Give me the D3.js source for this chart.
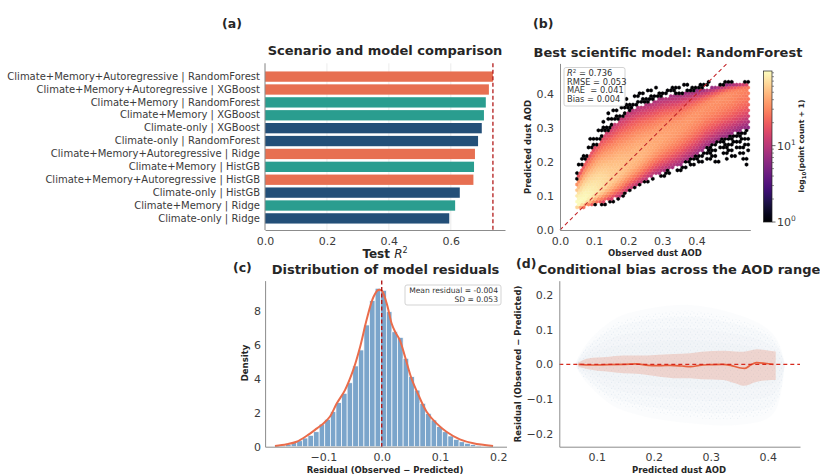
<!DOCTYPE html>
<html>
<head>
<meta charset="utf-8">
<script src="https://cdn.jsdelivr.net/npm/d3@7"></script>
<style>
  body { margin: 0; background: #fff; }
  svg { font-family: "DejaVu Sans", sans-serif; }
  .ax path.domain { stroke: #8c8c8c; }
  .ax text { fill: #3b3b3b; }
</style>
</head>
<body>
<svg id="fig" width="820" height="475"></svg>
<script>
// ---------------- (a) scenario / model comparison ----------------
const modelLabels = [
  "Climate+Memory+Autoregressive | RandomForest",
  "Climate+Memory+Autoregressive | XGBoost",
  "Climate+Memory | RandomForest",
  "Climate+Memory | XGBoost",
  "Climate-only | XGBoost",
  "Climate-only | RandomForest",
  "Climate+Memory+Autoregressive | Ridge",
  "Climate+Memory | HistGB",
  "Climate+Memory+Autoregressive | HistGB",
  "Climate-only | HistGB",
  "Climate+Memory | Ridge",
  "Climate-only | Ridge"
];
const modelScenario = ["CMA","CMA","CM","CM","CO","CO","CMA","CM","CMA","CO","CM","CO"];
const testR2 = [0.736, 0.723, 0.713, 0.707, 0.700, 0.688, 0.678, 0.675, 0.673, 0.629, 0.614, 0.595];
const bestR2 = 0.736;
const r2Ticks = [0, 0.2, 0.4, 0.6];

// ---------------- (b) observed vs predicted hexbin envelope ----------------
// per observed-AOD column: sparse lower edge, dense lower edge, density ridge,
// dense upper edge, sparse upper edge, and peak cell count on the ridge
const hexObs      = [0.05, 0.075, 0.10, 0.125, 0.15, 0.175, 0.20, 0.225, 0.25, 0.275, 0.30, 0.325, 0.35, 0.375, 0.40, 0.425, 0.45, 0.475, 0.50, 0.525, 0.55];
const hexLo       = [0.055, 0.062, 0.068, 0.072, 0.078, 0.090, 0.105, 0.120, 0.135, 0.145, 0.155, 0.160, 0.168, 0.175, 0.180, 0.190, 0.195, 0.200, 0.205, 0.200, 0.190];
const hexLoDense  = [0.058, 0.066, 0.075, 0.080, 0.088, 0.100, 0.115, 0.130, 0.145, 0.160, 0.170, 0.180, 0.190, 0.205, 0.220, 0.240, 0.255, 0.270, 0.280, 0.290, 0.300];
const hexRidge    = [0.075, 0.090, 0.110, 0.130, 0.150, 0.170, 0.190, 0.210, 0.230, 0.250, 0.270, 0.285, 0.300, 0.320, 0.340, 0.360, 0.375, 0.390, 0.400, 0.410, 0.415];
const hexHiDense  = [0.150, 0.200, 0.240, 0.275, 0.300, 0.325, 0.345, 0.360, 0.370, 0.380, 0.390, 0.395, 0.400, 0.405, 0.410, 0.415, 0.420, 0.425, 0.430, 0.432, 0.435];
const hexHi       = [0.190, 0.250, 0.290, 0.325, 0.355, 0.375, 0.392, 0.402, 0.410, 0.418, 0.424, 0.428, 0.431, 0.434, 0.436, 0.437, 0.439, 0.440, 0.441, 0.441, 0.441];
const hexPeak     = [95, 90, 80, 70, 60, 55, 50, 48, 45, 42, 40, 38, 36, 35, 34, 33, 33, 33, 32, 30, 28];
const countMax = 95;
const metricNames  = ["RMSE", "MAE ", "Bias"];
const metricValues = [0.053, 0.041, 0.004];
const aodTicks = [0, 0.1, 0.2, 0.3, 0.4];

// ---------------- (c) residual distribution ----------------
const histStart = -0.1841;
const histWidth = 0.0096;
const histDensity = [0.06, 0.08, 0.14, 0.24, 0.35, 0.51, 0.67, 0.88, 1.33, 1.61, 2.06, 2.59, 3.14, 3.76, 4.75, 5.69, 7.16, 8.59, 9.32,
                     9.20, 7.94, 6.76, 6.43, 5.20, 4.12, 3.33, 2.55, 1.96, 1.57, 1.18, 0.88, 0.63, 0.43, 0.29, 0.20, 0.12, 0.08, 0.04, 0.02];
const kdeX = [-0.183, -0.163, -0.146, -0.129, -0.111, -0.100, -0.089, -0.077, -0.063, -0.049, -0.037, -0.026, -0.014, -0.006, 0.0,
              0.0085, 0.017, 0.023, 0.031, 0.040, 0.051, 0.063, 0.077, 0.094, 0.111, 0.134, 0.157, 0.191];
const kdeY = [0.04, 0.14, 0.29, 0.63, 1.08, 1.37, 1.76, 2.55, 3.33, 4.50, 5.88, 7.45, 8.82, 9.22, 9.18,
              8.43, 7.25, 6.76, 6.27, 5.29, 4.02, 3.04, 2.06, 1.37, 0.88, 0.43, 0.20, 0.04];
const meanResidual = -0.004;
const sdResidual = 0.053;
const residTicks = [-0.1, 0, 0.1, 0.2];
const densityTicks = [0, 2, 4, 6, 8];

// ---------------- (d) conditional bias ----------------
const cloudPred = [0.062, 0.070, 0.088, 0.118, 0.147, 0.205, 0.264, 0.322, 0.380, 0.420, 0.430];
const cloudHi   = [0.000, 0.030, 0.075, 0.118, 0.147, 0.166, 0.176, 0.157, 0.128, 0.080, 0.000];
const cloudLo   = [0.000, -0.030, -0.064, -0.112, -0.136, -0.160, -0.170, -0.180, -0.170, -0.150, 0.000];
const bandPred  = [0.068, 0.085, 0.118, 0.147, 0.176, 0.202, 0.235, 0.264, 0.284, 0.322, 0.343, 0.357, 0.381, 0.400, 0.414];
const bandHi    = [0.005, 0.017, 0.021, 0.025, 0.025, 0.027, 0.030, 0.032, 0.036, 0.039, 0.037, 0.036, 0.043, 0.040, 0.037];
const bandLo    = [-0.008, -0.014, -0.021, -0.026, -0.028, -0.034, -0.040, -0.040, -0.043, -0.045, -0.055, -0.062, -0.050, -0.046, -0.045];
const meanPred  = [0.068, 0.09, 0.12, 0.15, 0.17, 0.19, 0.21, 0.23, 0.25, 0.265, 0.28, 0.30, 0.32, 0.335, 0.35, 0.36, 0.37, 0.38, 0.395, 0.41];
const meanResid = [0.000, -0.002, -0.001, 0.000, 0.001, -0.003, -0.004, -0.003, -0.005, -0.007, -0.003, -0.001, 0.000, -0.003, -0.010, -0.012, -0.002, 0.005, 0.003, 0.000];
const biasXTicks = [0.1, 0.2, 0.3, 0.4];
const biasYTicks = [-0.2, -0.1, 0, 0.1, 0.2];

// ================= drawing =================
const svg = d3.select("#fig");
const ink = "#262626";
const scenarioColor = { CO: "#234f78", CM: "#2a9d8f", CMA: "#e76f51" };
const f1 = d3.format(".1f");

function panelLabel(txt, x, y) {
  svg.append("text").attr("x", x).attr("y", y).attr("font-size", 12.5)
    .attr("font-weight", "bold").attr("fill", ink).text(txt);
}
function title(txt, x, y) {
  svg.append("text").attr("x", x).attr("y", y).attr("text-anchor", "middle")
    .attr("font-size", 13).attr("font-weight", "bold").attr("fill", ink).text(txt);
}
function styleAxis(g, size) {
  g.attr("class", "ax").attr("font-family", null).attr("font-size", size);
  return g;
}

// ---------- (a) ----------
{
  const x = d3.scaleLinear().domain([0, 0.775]).range([265, 505]);
  const y = d3.scaleBand().domain(modelLabels).range([65, 230]).paddingInner(0.2).paddingOuter(0.5);
  const top = 63.3, bottom = 230;
  const g = svg.append("g");
  g.selectAll("line.grid").data(r2Ticks).join("line")
    .attr("x1", d => x(d)).attr("x2", d => x(d)).attr("y1", top).attr("y2", bottom)
    .attr("stroke", "#ececec").attr("stroke-width", 1);
  g.selectAll("rect").data(testR2).join("rect")
    .attr("x", x(0)).attr("y", (d, i) => y(modelLabels[i]))
    .attr("width", d => x(d) - x(0)).attr("height", y.bandwidth())
    .attr("fill", (d, i) => scenarioColor[modelScenario[i]]);
  g.append("line").attr("x1", x(bestR2)).attr("x2", x(bestR2)).attr("y1", top).attr("y2", bottom)
    .attr("stroke", "#b31b1b").attr("stroke-width", 1.3).attr("stroke-dasharray", "4,2.5");
  styleAxis(g.append("g").attr("transform", `translate(0,${bottom})`)
    .call(d3.axisBottom(x).tickValues(r2Ticks).tickFormat(f1).tickSize(0).tickSizeOuter(0).tickPadding(7)), 11);
  const ga = styleAxis(g.append("g").attr("transform", `translate(${x(0)},0)`)
    .call(d3.axisLeft(y).tickSize(0).tickPadding(5)), 10);
  ga.select("path.domain").attr("d", `M0,${top}V${bottom}`);
  title("Scenario and model comparison", 385, 55);
  const xl = svg.append("text").attr("x", 385).attr("y", 258).attr("text-anchor", "middle")
    .attr("font-size", 12).attr("font-weight", "bold").attr("fill", ink);
  xl.append("tspan").text("Test ");
  xl.append("tspan").attr("font-style", "italic").attr("font-weight", "normal").text("R");
  xl.append("tspan").attr("font-size", 8).attr("font-weight", "normal").attr("dy", -5).text("2");
  panelLabel("(a)", 222, 28);
}

// ---------- (b) ----------
{
  const x = d3.scaleLinear().domain([0, 0.558]).range([560, 750.3]);
  const y = d3.scaleLinear().domain([0, 0.49]).range([230, 63.4]);
  const cnt = d3.scaleLog().domain([1, countMax]).range([0, 1]).clamp(true);
  const lerp = arr => d3.scaleLinear().domain(hexObs).range(arr).clamp(true);
  const fLo = lerp(hexLo), fLo2 = lerp(hexLoDense), fRg = lerp(hexRidge),
        fHi2 = lerp(hexHiDense), fHi = lerp(hexHi), fPk = lerp(hexPeak);

  const hexR = 1.9;
  const stepX = hexR * Math.sqrt(3), stepY = hexR * 1.5;
  const dObs = x.invert(x(0) + stepX) - x.invert(x(0));
  const dPred = y.invert(y(0) - stepY) - y.invert(y(0));
  const obs0 = hexObs[0], obs1 = hexObs[hexObs.length - 1];
  const cells = [];
  for (let j = 0; ; j++) {
    const pred = 0.05 + j * dPred;
    if (pred > 0.445) break;
    for (let i = 0; ; i++) {
      const obs = obs0 + (i + (j % 2) * 0.5) * dObs;
      if (obs > obs1 + 0.004) break;
      const lo = fLo(obs), lo2 = fLo2(obs), rg = fRg(obs), hi2 = fHi2(obs), hi = fHi(obs), pk = fPk(obs);
      if (pred < lo || pred > hi) continue;
      let c;
      if (pred < lo2 || pred > hi2) {
        // sparse outskirts: single points, thinned toward the outer edge
        const f = pred < lo2 ? (lo2 - pred) / Math.max(lo2 - lo, 1e-6) : (pred - hi2) / Math.max(hi - hi2, 1e-6);
        const pattern = ((i * 37 + j * 61) % 17) / 17;
        if (pattern > 0.72 - 0.55 * f) continue;
        c = 1;
      } else {
        const d = pred >= rg ? (pred - rg) / (hi2 - rg) : (rg - pred) / (rg - lo2);
        c = 1 + (pk - 1) * Math.exp(-1.7 * d * d);
      }
      cells.push({ obs, pred, c });
    }
  }
  const hexPath = d3.range(6).map(k => {
    const a = Math.PI / 3 * k + Math.PI / 6;
    return [hexR * Math.cos(a), hexR * Math.sin(a)];
  });
  const hexD = "M" + hexPath.map(p => p[0].toFixed(2) + "," + p[1].toFixed(2)).join("L") + "Z";
  const g = svg.append("g");
  g.selectAll("path.hex").data(cells).join("path")
    .attr("d", hexD).attr("transform", d => `translate(${x(d.obs).toFixed(2)},${y(d.pred).toFixed(2)})`)
    .attr("fill", d => d3.interpolateMagma(cnt(d.c)))
    .attr("stroke", d => d3.interpolateMagma(cnt(d.c))).attr("stroke-width", 0.3);

  // 1:1 reference line clipped to the axes box
  const lineEnd = Math.min(0.558, 0.49);
  g.append("line").attr("x1", x(0)).attr("y1", y(0)).attr("x2", x(lineEnd)).attr("y2", y(lineEnd))
    .attr("stroke", "#c4262a").attr("stroke-width", 1.1).attr("stroke-dasharray", "4,3");

  styleAxis(g.append("g").attr("transform", `translate(0,230)`)
    .call(d3.axisBottom(x).tickValues(aodTicks).tickFormat(f1).tickSize(0).tickSizeOuter(0).tickPadding(7)), 11);
  styleAxis(g.append("g").attr("transform", `translate(560,0)`)
    .call(d3.axisLeft(y).tickValues(aodTicks).tickFormat(f1).tickSize(0).tickSizeOuter(0).tickPadding(6)), 11);
  g.selectAll(".ax path.domain").attr("stroke", "#555");

  // metrics box
  g.append("rect").attr("x", 564).attr("y", 67.5).attr("width", 61).attr("height", 38.5).attr("rx", 2)
    .attr("fill", "#fff").attr("fill-opacity", 0.85).attr("stroke", "#c8c8c8").attr("stroke-width", 0.8);
  const tb = g.append("text").attr("font-size", 8.3).attr("fill", "#333").style("white-space", "pre");
  const l0 = tb.append("tspan").attr("x", 567).attr("y", 75.7);
  l0.append("tspan").attr("font-style", "italic").text("R");
  l0.append("tspan").attr("font-size", 5.5).attr("dy", -3).text("2");
  l0.append("tspan").attr("dy", 3).text(" = " + bestR2.toFixed(3));
  metricNames.forEach((n, i) => {
    tb.append("tspan").attr("x", 567).attr("y", 84.5 + i * 8.7).text(`${n} = ${metricValues[i].toFixed(3)}`);
  });

  title("Best scientific model: RandomForest", 668, 57);
  svg.append("text").attr("x", 655).attr("y", 256).attr("text-anchor", "middle")
    .attr("font-size", 8.5).attr("font-weight", "bold").attr("fill", ink).text("Observed dust AOD");
  svg.append("text").attr("transform", "translate(531,147) rotate(-90)").attr("text-anchor", "middle")
    .attr("font-size", 8.5).attr("font-weight", "bold").attr("fill", ink).text("Predicted dust AOD");
  panelLabel("(b)", 533, 28);

  // colour bar
  const cb = d3.scaleLog().domain([1, countMax]).range([222, 71]);
  const defs = svg.append("defs");
  const grad = defs.append("linearGradient").attr("id", "magmaBar")
    .attr("x1", 0).attr("y1", 1).attr("x2", 0).attr("y2", 0);
  d3.range(0, 1.0001, 0.05).forEach(t => grad.append("stop").attr("offset", t).attr("stop-color", d3.interpolateMagma(t)));
  const cx0 = 763.5, cw = 8.5;
  svg.append("rect").attr("x", cx0).attr("y", cb(countMax)).attr("width", cw).attr("height", cb(1) - cb(countMax))
    .attr("fill", "url(#magmaBar)").attr("stroke", "#222").attr("stroke-width", 0.7);
  const majors = [1, 10];
  const minors = [2, 3, 4, 5, 6, 7, 8, 9, 20, 30, 40, 50, 60, 70, 80, 90];
  svg.selectAll("line.cbmin").data(minors).join("line")
    .attr("x1", cx0 + cw).attr("x2", cx0 + cw + 2).attr("y1", d => cb(d)).attr("y2", d => cb(d))
    .attr("stroke", "#444").attr("stroke-width", 0.6);
  svg.selectAll("line.cbmaj").data(majors).join("line")
    .attr("x1", cx0 + cw).attr("x2", cx0 + cw + 3.5).attr("y1", d => cb(d)).attr("y2", d => cb(d))
    .attr("stroke", "#444").attr("stroke-width", 0.8);
  majors.forEach(m => {
    const t = svg.append("text").attr("x", cx0 + cw + 5).attr("y", cb(m) + 4).attr("font-size", 11).attr("fill", "#3b3b3b");
    t.append("tspan").text("10");
    t.append("tspan").attr("font-size", 7.5).attr("dy", -5).text(String(Math.round(Math.log10(m))));
  });
  const cl = svg.append("text").attr("transform", "translate(804,146) rotate(-90)").attr("text-anchor", "middle")
    .attr("font-size", 7.5).attr("font-weight", "bold").attr("fill", ink);
  cl.append("tspan").text("log");
  cl.append("tspan").attr("font-size", 5.5).attr("dy", 2).text("10");
  cl.append("tspan").attr("dy", -2).text("(point count + 1)");
}

// ---------- (c) ----------
{
  const x = d3.scaleLinear().domain([-0.2, 0.214]).range([265.1, 506.5]);
  const y = d3.scaleLinear().domain([0, 9.77]).range([446.7, 280.6]);
  const g = svg.append("g");
  g.selectAll("rect").data(histDensity).join("rect")
    .attr("x", (d, i) => x(histStart + i * histWidth))
    .attr("width", x(histWidth) - x(0))
    .attr("y", d => y(d)).attr("height", d => y(0) - y(d))
    .attr("fill", "#7ba5cb").attr("stroke", "#fff").attr("stroke-width", 0.7);
  g.append("path").datum(kdeX.map((v, i) => [v, kdeY[i]]))
    .attr("d", d3.line().x(d => x(d[0])).y(d => y(d[1])).curve(d3.curveCatmullRom))
    .attr("fill", "none").attr("stroke", "#ea6c4b").attr("stroke-width", 2);
  g.append("line").attr("x1", x(0)).attr("x2", x(0)).attr("y1", 280.6).attr("y2", 446.7)
    .attr("stroke", "#b31b1b").attr("stroke-width", 1.4).attr("stroke-dasharray", "4,2.5");
  styleAxis(g.append("g").attr("transform", "translate(0,446.7)")
    .call(d3.axisBottom(x).tickValues(residTicks).tickFormat(f1).tickSize(0).tickSizeOuter(0).tickPadding(7)), 11);
  styleAxis(g.append("g").attr("transform", "translate(265.1,0)")
    .call(d3.axisLeft(y).tickValues(densityTicks).tickFormat(d3.format("d")).tickSize(0).tickSizeOuter(0).tickPadding(4)), 11);

  g.append("rect").attr("x", 405).attr("y", 285).attr("width", 96).attr("height", 20).attr("rx", 2)
    .attr("fill", "#fff").attr("fill-opacity", 0.85).attr("stroke", "#c8c8c8").attr("stroke-width", 0.8);
  const lt = g.append("text").attr("font-size", 7.6).attr("fill", "#333").attr("text-anchor", "end");
  lt.append("tspan").attr("x", 498).attr("y", 293).text(`Mean residual = ${meanResidual.toFixed(3)}`);
  lt.append("tspan").attr("x", 498).attr("y", 302).text(`SD = ${sdResidual.toFixed(3)}`);

  title("Distribution of model residuals", 385.5, 274);
  svg.append("text").attr("x", 385).attr("y", 472.5).attr("text-anchor", "middle")
    .attr("font-size", 8.5).attr("font-weight", "bold").attr("fill", ink).text("Residual (Observed \u2212 Predicted)");
  svg.append("text").attr("transform", "translate(248,363) rotate(-90)").attr("text-anchor", "middle")
    .attr("font-size", 8.5).attr("font-weight", "bold").attr("fill", ink).text("Density");
  panelLabel("(c)", 233, 272);
}

// ---------- (d) ----------
{
  const x = d3.scaleLinear().domain([0.0344, 0.4566]).range([559.3, 800]);
  const y = d3.scaleLinear().domain([-0.2375, 0.2409]).range([446.7, 280.7]);
  const g = svg.append("g");
  const defs = svg.append("defs");
  const pat = defs.append("pattern").attr("id", "speck").attr("patternUnits", "userSpaceOnUse")
    .attr("width", 7).attr("height", 6);
  [[1, 1], [4.5, 2.2], [2.6, 4.4], [6, 5]].forEach(p =>
    pat.append("circle").attr("cx", p[0]).attr("cy", p[1]).attr("r", 0.6).attr("fill", "#a9bdd4").attr("fill-opacity", 0.22));
  const cloud = cloudPred.map((p, i) => ({ p, hi: cloudHi[i], lo: cloudLo[i] }));
  const area = k => d3.area().x(d => x(d.p)).y0(d => y(d.lo * k)).y1(d => y(d.hi * k)).curve(d3.curveBasis);
  // layered envelopes give a soft, denser-toward-zero scatter haze
  [1, 0.8, 0.6, 0.4].forEach(k => {
    g.append("path").datum(cloud).attr("d", area(k)).attr("fill", "#e2e9f1").attr("fill-opacity", 0.12);
  });
  g.append("path").datum(cloud).attr("d", area(0.9)).attr("fill", "url(#speck)");

  const band = bandPred.map((p, i) => ({ p, hi: bandHi[i], lo: bandLo[i] }));
  g.append("path").datum(band)
    .attr("d", d3.area().x(d => x(d.p)).y0(d => y(d.lo)).y1(d => y(d.hi)).curve(d3.curveMonotoneX))
    .attr("fill", "#e8704f").attr("fill-opacity", 0.24);
  g.append("path").datum(meanPred.map((p, i) => [p, meanResid[i]]))
    .attr("d", d3.line().x(d => x(d[0])).y(d => y(d[1])).curve(d3.curveMonotoneX))
    .attr("fill", "none").attr("stroke", "#e8613e").attr("stroke-width", 1.7);
  g.append("line").attr("x1", 559.3).attr("x2", 800).attr("y1", y(0)).attr("y2", y(0))
    .attr("stroke", "#d62a1e").attr("stroke-width", 1.3).attr("stroke-dasharray", "4,3");

  styleAxis(g.append("g").attr("transform", "translate(0,446.7)")
    .call(d3.axisBottom(x).tickValues(biasXTicks).tickFormat(f1).tickSize(0).tickSizeOuter(0).tickPadding(7)), 11);
  styleAxis(g.append("g").attr("transform", "translate(559.3,0)")
    .call(d3.axisLeft(y).tickValues(biasYTicks).tickFormat(f1).tickSize(0).tickSizeOuter(0).tickPadding(6)), 11);

  title("Conditional bias across the AOD range", 679, 274);
  svg.append("text").attr("x", 679).attr("y", 472.5).attr("text-anchor", "middle")
    .attr("font-size", 8.5).attr("font-weight", "bold").attr("fill", ink).text("Predicted dust AOD");
  svg.append("text").attr("transform", "translate(521,364) rotate(-90)").attr("text-anchor", "middle")
    .attr("font-size", 8.5).attr("font-weight", "bold").attr("fill", ink).text("Residual (Observed \u2212 Predicted)");
  panelLabel("(d)", 516, 268);
}
</script>
</body>
</html>
